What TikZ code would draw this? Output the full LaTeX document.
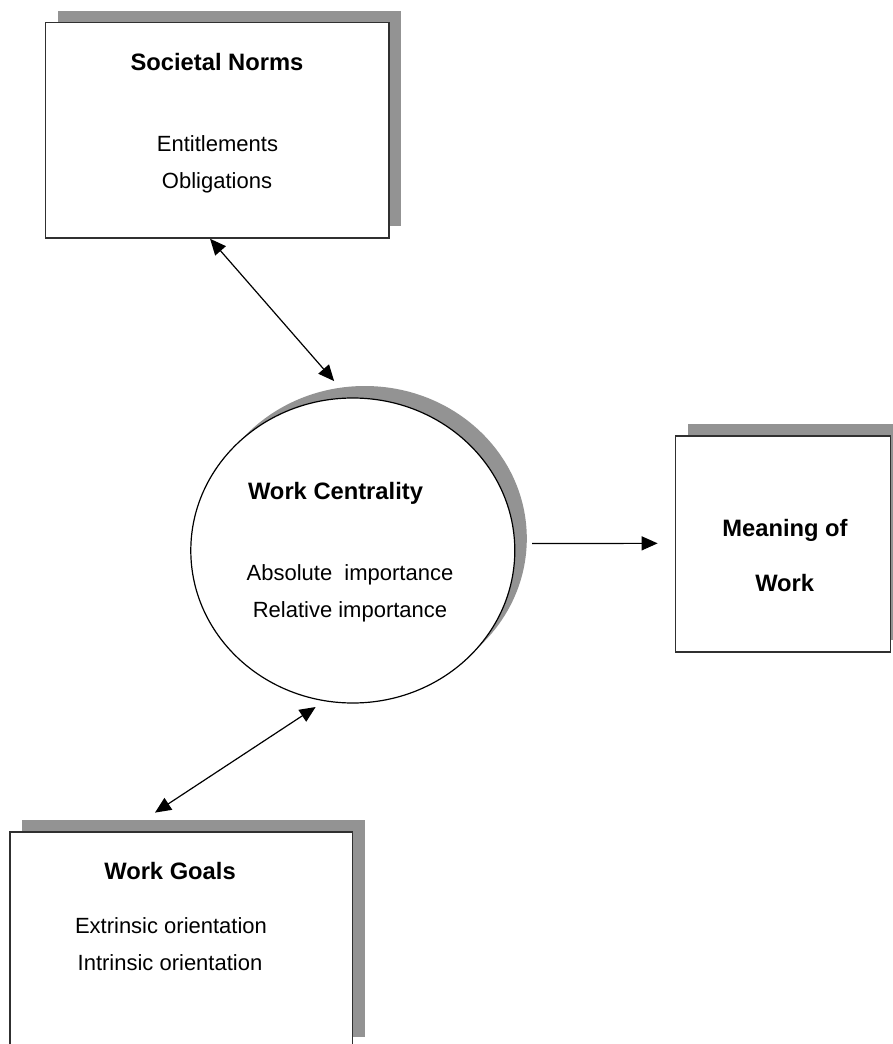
\documentclass[tikz,border=0pt]{standalone}
\usepackage{fontspec}
\setmainfont{Liberation Sans}
\usetikzlibrary{arrows.meta,shapes.geometric,shadows}

\definecolor{shadowgray}{HTML}{939393}
\definecolor{edgegray}{HTML}{303030}

\begin{document}
\begin{tikzpicture}[x=0.75pt,y=-0.75pt,
    box/.style={draw=edgegray,line width=1.1pt,fill=white,inner sep=0pt,
        general shadow={shadow xshift=9pt,shadow yshift=9pt,fill=shadowgray}},
    title/.style={anchor=base,inner sep=0pt,font=\fontsize{17.8}{20}\selectfont\bfseries},
    item/.style={anchor=base,inner sep=0pt,font=\fontsize{16.5}{19}\selectfont},
    link/.style={line width=0.9pt,-{Triangle[length=12pt,width=10.5pt]}},
    dlink/.style={line width=0.9pt,{Triangle[length=12pt,width=10.5pt]}-{Triangle[length=12pt,width=10.5pt]}}
]

    \useasboundingbox (0,0) rectangle (892,1044);

    % boxes
    \node[box,minimum width=257.5pt,minimum height=161.5pt] (norms) at (217.4,130.4) {};
    \node[box,ellipse,line width=0.9pt,draw=black,minimum width=243pt,minimum height=228.75pt] (centrality) at (352.8,550.5) {};
    \node[box,minimum width=161.25pt,minimum height=162pt] (meaning) at (783.2,544) {};
    \node[box,minimum width=257pt,minimum height=162.75pt] (goals) at (181.4,940.5) {};

    % text
    \node[title] (normsT) at (217,70.7) {Societal Norms};
    \node[item] (normsA) at (217.5,151.7) {Entitlements};
    \node[item] (normsB) at (217,188.3) {Obligations};

    \node[title] (centT) at (335.5,499.3) {Work Centrality};
    \node[item] (centA) at (350,580) {Absolute\ \ importance};
    \node[item] (centB) at (350,617.3) {Relative importance};

    \node[title] (meanT) at (785,536.7) {Meaning of};
    \node[title] (meanB) at (784.7,591) {Work};

    \node[title] (goalsT) at (170,879.3) {Work Goals};
    \node[item] (goalsA) at (171,933.3) {Extrinsic orientation};
    \node[item] (goalsB) at (170,970) {Intrinsic orientation};

    % arrows
    \draw[dlink] ([xshift=-5.5pt]norms.south) -- ([yshift=13pt]centrality.97);
    \draw[dlink] ([yshift=-5.6pt]centrality.256) -- ([xshift=-19.8pt,yshift=14pt]goals.north);
    \draw[link] ([xshift=12.5pt,yshift=5.2pt]centrality.east) -- ([xshift=-13pt,yshift=0.5pt]meaning.west);

\end{tikzpicture}
\end{document}
